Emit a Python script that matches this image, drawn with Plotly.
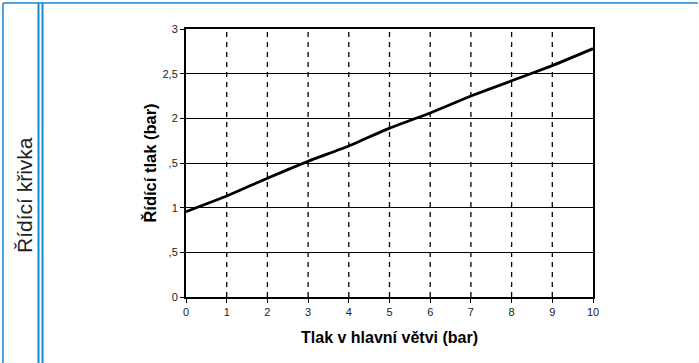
import plotly.graph_objects as go

# tlak v hlavní větvi (bar) -> řídící tlak (bar)
main_pressure = [0, 1, 2, 3, 4, 5, 6, 7, 8, 9, 10]
control_pressure = [0.955, 1.13, 1.33, 1.52, 1.69, 1.89, 2.06, 2.25, 2.42, 2.59, 2.78]

y_tick_vals = [0, 0.5, 1, 1.5, 2, 2.5, 3]
y_tick_text = ["0", ",5", "1", ",5", "2", "2,5", "3"]
x_tick_vals = list(range(0, 11))

BLUE = "#1189d6"
FONT = "Liberation Sans, Arial, sans-serif"
W, H = 699, 363
L, R, T, B = 186, 593, 29, 297


def px(x):
    return (x - L) / (R - L)


def py(y):
    return (B - y) / (B - T)


fig = go.Figure()

# dashed vertical grid
for xv in x_tick_vals[1:-1]:
    fig.add_shape(type="line", xref="x", yref="y", x0=xv, x1=xv, y0=0, y1=3,
                  line=dict(color="black", width=1.3, dash="5px,5px"), layer="below")

fig.add_trace(go.Scatter(
    x=main_pressure, y=control_pressure, mode="lines",
    line=dict(color="black", width=2.8, shape="spline", smoothing=0.4),
    showlegend=False, hoverinfo="skip",
))

fig.update_xaxes(
    range=[0, 10], tickvals=x_tick_vals, showgrid=False,
    showline=True, linecolor="black", linewidth=1.5, mirror=True,
    ticks="outside", ticklen=4, tickcolor="black",
    tickfont=dict(family=FONT, size=11, color="#222"),
    title=dict(text="<b>Tlak v hlavní větvi (bar)</b>", standoff=15,
               font=dict(family=FONT, size=16, color="black")),
    zeroline=False,
)
fig.update_yaxes(
    range=[0, 3], tickvals=y_tick_vals, ticktext=y_tick_text,
    showgrid=True, gridcolor="black", gridwidth=1,
    showline=True, linecolor="black", linewidth=2, mirror=True,
    ticks="outside", ticklen=4, tickcolor="black",
    tickfont=dict(family=FONT, size=11, color="#222"),
    title=dict(text="<b>Řídící tlak (bar)</b>", standoff=2,
               font=dict(family=FONT, size=16.5, color="black")),
    zeroline=False,
)

# table borders of the surrounding page
border = dict(type="line", xref="paper", yref="paper", layer="above")
fig.add_shape(**border, x0=px(3), x1=px(698), y0=py(3), y1=py(3),
              line=dict(color=BLUE, width=1.5))
fig.add_shape(**border, x0=px(3), x1=px(3), y0=py(3), y1=py(363),
              line=dict(color=BLUE, width=1.5))
for xb in (38.5, 42.5):
    fig.add_shape(**border, x0=px(xb), x1=px(xb), y0=py(3), y1=py(363),
                  line=dict(color=BLUE, width=2))

fig.add_annotation(
    text="Řídící křivka", xref="paper", yref="paper",
    x=px(24), y=py(195), xanchor="center", yanchor="middle",
    textangle=-90, showarrow=False,
    font=dict(family=FONT, size=21, color="#222"),
)

fig.update_layout(
    width=W, height=H,
    margin=dict(l=L, r=W - R, t=T, b=H - B),
    plot_bgcolor="white", paper_bgcolor="white",
)

fig.write_html("out.html", config={"displayModeBar": False},
               post_script="document.body.style.margin='0';")
